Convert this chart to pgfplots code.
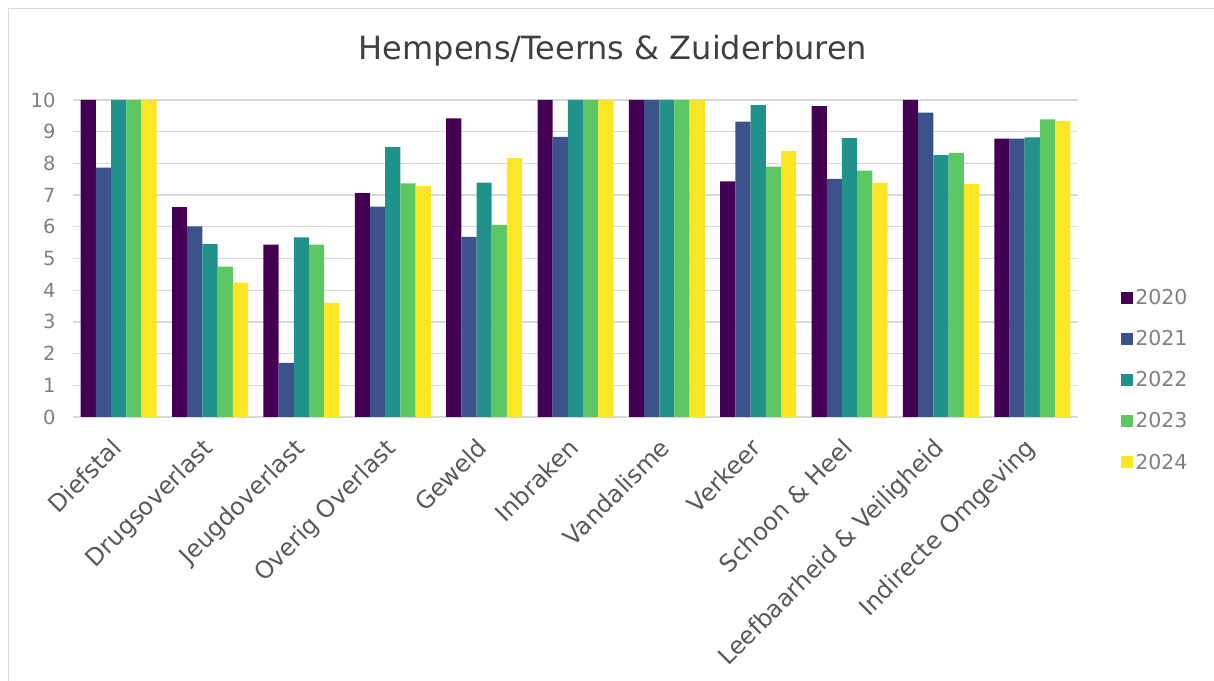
\documentclass[border=0pt]{standalone}
\usepackage{pgfplots}
\pgfplotsset{compat=1.18}
\usepackage{fontspec}
\setmainfont{DejaVu Sans}
\definecolor{c20}{HTML}{440154}
\definecolor{c21}{HTML}{3B528B}
\definecolor{c22}{HTML}{21918C}
\definecolor{c23}{HTML}{5DC863}
\definecolor{c24}{HTML}{FDE725}
\definecolor{gridc}{HTML}{D9D9D9}
\definecolor{ticktxt}{HTML}{808080}
\definecolor{labtxt}{HTML}{595959}
\definecolor{titletxt}{HTML}{404040}
\begin{document}
\begin{tikzpicture}
\path[use as bounding box] (0,0) rectangle (1214bp,681bp);
\draw[gridc, line width=1.5bp] (8.5bp,0bp) -- (8.5bp,672.5bp) -- (1214bp,672.5bp);
\node[anchor=base, font=\fontsize{32bp}{38bp}\selectfont, text=titletxt] at (613bp,621bp) {Hempens/Teerns \& Zuiderburen};
\begin{axis}[
  at={(73bp,264bp)}, anchor=south west,
  scale only axis, width=1005bp, height=317bp,
  ybar=0pt, bar width=15.2bp,
  xmin=-0.5, xmax=10.5, ymin=0, ymax=10,
  xtick={0,1,2,3,4,5,6,7,8,9,10},
  xticklabels={Diefstal,Drugsoverlast,Jeugdoverlast,Overig Overlast,Geweld,Inbraken,Vandalisme,Verkeer,Schoon \& Heel,Leefbaarheid \& Veiligheid,Indirecte Omgeving},
  ytick={0,1,...,10},
  major tick length=0pt,
  axis line style={draw=none},
  ymajorgrids, major grid style={draw=gridc, line width=1.3bp},
  /pgf/number format/assume math mode=true,
  yticklabel style={font=\fontsize{19.5bp}{23bp}\selectfont, text=ticktxt, anchor=east, xshift=-14bp},
  xticklabel style={xshift=-8.5bp, yshift=-18bp, font=\fontsize{24bp}{28bp}\selectfont, text=labtxt, rotate=45, anchor=north east, inner sep=1bp},
  legend style={at={(1.04,0.117)}, anchor=west, draw=none, fill=none,
    font=\fontsize{20.5bp}{24bp}\selectfont, text=ticktxt, row sep=20.5bp,
    cells={anchor=west}},
  legend image code/.code={\fill[#1] (0bp,-6bp) rectangle (12bp,6bp);},
  every axis plot/.append style={draw=none},
]
\addplot[fill=c20] coordinates {(0,10) (1,6.62) (2,5.44) (3,7.06) (4,9.42) (5,10) (6,10) (7,7.43) (8,9.81) (9,10) (10,8.78)};
\addplot[fill=c21] coordinates {(0,7.87) (1,6.01) (2,1.71) (3,6.64) (4,5.68) (5,8.84) (6,10) (7,9.32) (8,7.51) (9,9.60) (10,8.78)};
\addplot[fill=c22] coordinates {(0,10) (1,5.46) (2,5.67) (3,8.51) (4,7.39) (5,10) (6,10) (7,9.84) (8,8.80) (9,8.26) (10,8.82)};
\addplot[fill=c23] coordinates {(0,10) (1,4.74) (2,5.44) (3,7.37) (4,6.06) (5,10) (6,10) (7,7.90) (8,7.77) (9,8.33) (10,9.39)};
\addplot[fill=c24] coordinates {(0,10) (1,4.24) (2,3.60) (3,7.29) (4,8.17) (5,10) (6,10) (7,8.39) (8,7.38) (9,7.35) (10,9.34)};
\legend{2020,2021,2022,2023,2024}
\end{axis}
\end{tikzpicture}
\end{document}
